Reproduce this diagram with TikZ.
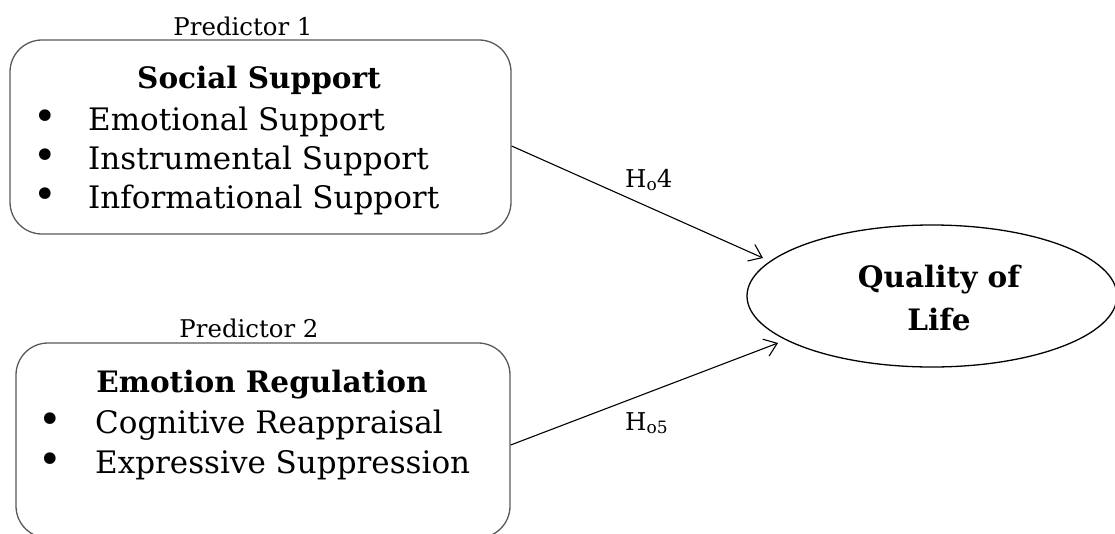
\documentclass[tikz,border=0pt]{standalone}
\usepackage{fontspec}
\setmainfont{DejaVu Serif}
\usetikzlibrary{shapes.geometric,arrows.meta,calc}
\begin{document}
\begin{tikzpicture}[x=1pt,y=-1pt,
  boxshape/.style={draw=black!65,line width=1.3pt,rounded corners=32pt,inner sep=0pt},
  ovalshape/.style={draw=black,line width=1.3pt,ellipse,inner sep=0pt},
  itemtext/.style={anchor=base west,inner sep=0pt,font=\fontsize{31}{36}\selectfont},
  bullettext/.style={anchor=base,inner sep=0pt,font=\fontsize{40}{44}\selectfont},
  titletext/.style={anchor=base,inner sep=0pt,font=\fontsize{29.5}{34}\selectfont\bfseries},
  predtext/.style={anchor=base,inner sep=0pt,font=\fontsize{24.4}{28}\selectfont},
  hyptext/.style={anchor=base west,inner sep=0pt,font=\fontsize{24.5}{28}\selectfont},
  arr/.style={line width=1.1pt,-{Straight Barb[length=12pt,width=18pt,line width=1.1pt]}}]
\useasboundingbox (0,0) rectangle (1115,533);
\clip (0,0) rectangle (1115,533);
% box 1
\node[boxshape,minimum width=501pt,minimum height=194pt] (box1) at (260.5,137) {};
\node[predtext] (pred1) at (243,35) {Predictor 1};
\node[titletext] (t1) at (259,88) {Social Support};
\node[bullettext] (b11) at (45,130) {•};
\node[itemtext] (i11) at (88,130) {Emotional Support};
\node[bullettext] (b12) at (45,169) {•};
\node[itemtext] (i12) at (88,169) {Instrumental Support};
\node[bullettext] (b13) at (45,208) {•};
\node[itemtext] (i13) at (88,208) {Informational Support};
% box 2
\node[boxshape,minimum width=494pt,minimum height=195pt] (box2) at (263,440.5) {};
\node[predtext] (pred2) at (249,337) {Predictor 2};
\node[titletext] (t2) at (262,392) {Emotion Regulation};
\node[bullettext] (b21) at (50,433) {•};
\node[itemtext] (i21) at (95,433) {Cognitive Reappraisal};
\node[bullettext] (b22) at (50,473) {•};
\node[itemtext] (i22) at (95,473) {Expressive Suppression};
% ellipse
\node[ovalshape,minimum width=370pt,minimum height=142pt] (qol) at (932,296) {};
\node[titletext] (q1) at (939,287) {Quality of};
\node[titletext] (q2) at (939,330) {Life};
% arrows
\coordinate (e4) at (763,258);
\coordinate (e5) at (778,343);
\draw[arr] ([yshift=-9pt]box1.east) -- (e4);
\draw[arr] ([yshift=-4.5pt]box2.east) -- (e5);
\node[hyptext] (h4) at (625,187) {H\raisebox{-0.25ex}{\fontsize{17}{20}\selectfont o}4};
\node[hyptext] (h5) at (625,430) {H\raisebox{-0.25ex}{\fontsize{17}{20}\selectfont o5}};
\end{tikzpicture}
\end{document}
